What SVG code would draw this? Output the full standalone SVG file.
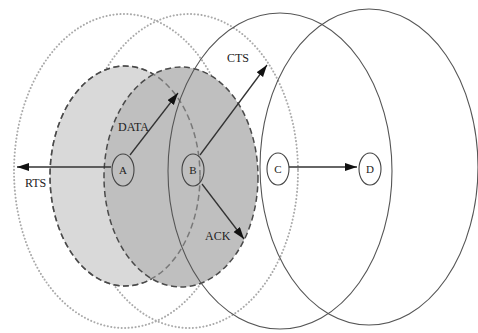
<svg xmlns="http://www.w3.org/2000/svg" width="478" height="333" viewBox="0 0 478 333">
<defs>
<style>
.dot{fill:none;stroke:#aaa;stroke-width:2;stroke-dasharray:0.1 3.4;stroke-linecap:round}
.dash{stroke:#4a4a4a;stroke-width:1.5;stroke-dasharray:6 3.5}
.solid{fill:none;stroke:#555;stroke-width:1.1}
.node ellipse{fill:none;stroke:#444;stroke-width:1.1}
.node text,.lbl{font-family:"Liberation Serif","Times New Roman",serif;fill:#222}
.node text{font-size:11px;text-anchor:middle}
.lbl{font-size:12px}
.arr{stroke:#333;stroke-width:1.3;fill:none;marker-end:url(#ah)}
</style>
<marker id="ah" markerUnits="userSpaceOnUse" markerWidth="14" markerHeight="10" refX="12" refY="4" orient="auto">
<path d="M0,0 L12,4 L0,8 Z" fill="#111"/>
</marker>
</defs>
<rect width="478" height="333" fill="#fff"/>
<g id="ranges">
<ellipse class="dot" cx="124" cy="171" rx="110" ry="157"/>
<ellipse class="dot" cx="189" cy="171" rx="109" ry="157"/>
<ellipse class="dash" cx="125" cy="176" rx="75" ry="110" fill="#d9d9d9"/>
<ellipse class="dash" cx="181" cy="177" rx="77" ry="110" fill="#bfbfbf"/>
<ellipse class="dash" cx="125" cy="176" rx="75" ry="110" fill="none" stroke-opacity="0.6"/>
<ellipse class="solid" cx="280" cy="171" rx="112" ry="158"/>
<ellipse class="solid" cx="369" cy="167" rx="109" ry="158"/>
</g>
<g id="A" class="node"><ellipse cx="123" cy="170" rx="11" ry="16"/><text x="123" y="174">A</text></g>
<g id="B" class="node"><ellipse cx="193" cy="170" rx="11" ry="16"/><text x="193" y="174">B</text></g>
<g id="C" class="node"><ellipse cx="278" cy="169" rx="11" ry="16"/><text x="278" y="173">C</text></g>
<g id="D" class="node"><ellipse cx="370" cy="169" rx="11" ry="16"/><text x="370" y="173">D</text></g>
<g id="connectors">
<line class="arr" x1="111" y1="167" x2="17" y2="167"/>
<line class="arr" x1="130" y1="155" x2="178" y2="93"/>
<line class="arr" x1="200" y1="155" x2="267" y2="65"/>
<line class="arr" x1="202" y1="184" x2="244" y2="239"/>
<line class="arr" x1="289" y1="167" x2="357" y2="167"/>
</g>
<g id="labels">
<text class="lbl" x="25" y="187">RTS</text>
<text class="lbl" x="118" y="131">DATA</text>
<text class="lbl" x="227" y="62">CTS</text>
<text class="lbl" x="205" y="240">ACK</text>
</g>
</svg>
